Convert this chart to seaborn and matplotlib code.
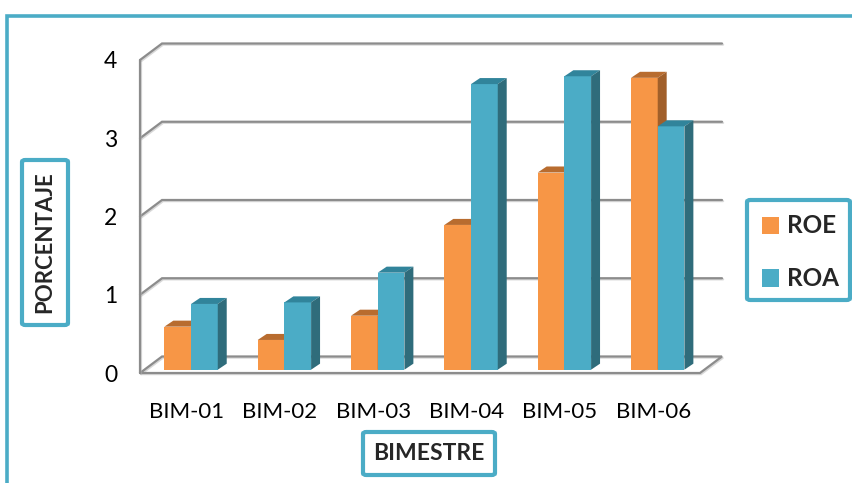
import matplotlib
matplotlib.use("Agg")
import matplotlib.pyplot as plt
import matplotlib.patheffects as pe
import pandas as pd
import seaborn as sns
from matplotlib.patches import Polygon, Rectangle, FancyBboxPatch
from matplotlib.lines import Line2D

# ---- data -------------------------------------------------------------
bimestres = ["BIM-01", "BIM-02", "BIM-03", "BIM-04", "BIM-05", "BIM-06"]
roe = [0.55, 0.38, 0.69, 1.85, 2.52, 3.73]
roa = [0.84, 0.86, 1.24, 3.65, 3.75, 3.11]
series = ["ROE", "ROA"]
y_ticks = [0, 1, 2, 3, 4]

df = pd.DataFrame({
    "Bimestre": bimestres * 2,
    "Indicador": ["ROE"] * len(roe) + ["ROA"] * len(roa),
    "Valor": roe + roa,
})

# ---- styling ----------------------------------------------------------
front_colors = {"ROE": "#F79646", "ROA": "#4BACC6"}
top_colors = {"ROE": "#B86C2F", "ROA": "#31849B"}
side_colors = {"ROE": "#A15F2A", "ROA": "#2F6C7B"}
frame_color = "#4BACC6"
grid_gray = "#8C8C8C"

sns.set_style("white")
plt.rcParams["font.family"] = ["Lato", "DejaVu Sans"]

W, H = 853, 483
fig = plt.figure(figsize=(W / 100, H / 100), dpi=100)


def fx(px):
    return px / W


def fy(py):
    return 1 - py / H


# pseudo-3D geometry (data units)
DX, DY = 0.236, 0.211          # depth of the floor / back wall
OX, OY = 0.2 * DX, 0.2 * DY    # front face of the bars sits slightly inside
BX, BY = 0.096, 0.077          # depth of each bar
XPX, YPX = 93.33, 78.25        # pixels per data unit

n = len(bimestres)
xmin, xmax = -0.5, n - 0.5 + DX
ymin, ymax = 0, max(y_ticks) + DY
left_px, bottom_px = 140, 373
ax = fig.add_axes([
    fx(left_px), fy(bottom_px),
    (xmax - xmin) * XPX / W, (ymax - ymin) * YPX / H,
])

sns.barplot(
    data=df, x="Bimestre", y="Valor", hue="Indicador",
    order=bimestres, hue_order=series, palette=front_colors,
    width=0.572, saturation=1, errorbar=None, legend=False,
    linewidth=0, ax=ax,
)

ax.set_xlim(xmin, xmax)
ax.set_ylim(ymin, ymax)
for s in ax.spines.values():
    s.set_visible(False)
ax.set_xlabel("")
ax.set_ylabel("")

# grid / walls
shadow = [pe.SimpleLineShadow(offset=(0.8, -0.8), shadow_color="0.7", alpha=0.5), pe.Normal()]
line_kw = dict(color=grid_gray, lw=1.6, clip_on=False, zorder=1,
               solid_joinstyle="miter", path_effects=shadow)
for v in y_ticks[1:]:
    ax.plot([xmin, xmin + DX, n - 0.5 + DX], [v, v + DY, v + DY], **line_kw)
ax.plot([xmin, n - 0.5, n - 0.5 + DX, xmin + DX, xmin],
        [0, 0, DY, DY, 0], **line_kw)
ax.plot([xmin, xmin], [0, max(y_ticks)], **line_kw)

# bars: shift front faces into depth, add top and side faces
for cont, name in zip(ax.containers, series):
    z = 3 if name == "ROE" else 4
    for bar in cont:
        x, w, h = bar.get_x(), bar.get_width(), bar.get_height()
        x += OX
        bar.set_x(x)
        bar.set_y(OY)
        bar.set_zorder(z)
        top = Polygon([(x, OY + h), (x + w, OY + h),
                       (x + w + BX, OY + h + BY), (x + BX, OY + h + BY)],
                      closed=True, facecolor=top_colors[name], lw=0, zorder=z)
        side = Polygon([(x + w, OY), (x + w + BX, OY + BY),
                        (x + w + BX, OY + h + BY), (x + w, OY + h)],
                       closed=True, facecolor=side_colors[name], lw=0, zorder=z)
        ax.add_patch(top)
        ax.add_patch(side)

# ticks
ax.set_yticks(y_ticks)
ax.set_yticklabels([str(v) for v in y_ticks])
ax.tick_params(axis="y", length=5.5, width=1.6, color=grid_gray,
               pad=11, labelsize=16.5, labelcolor="#000000")
ax.set_xticks(range(n))
ax.set_xticklabels(bimestres)
ax.tick_params(axis="x", length=0, pad=21, labelsize=16, labelcolor="#000000")


# ---- boxes and labels in figure pixels --------------------------------
def box(x0, y0, x1, y1, lw=3.0):
    p = FancyBboxPatch((fx(x0), fy(y1)), fx(x1) - fx(x0), fy(y0) - fy(y1),
                       boxstyle="round,pad=0,rounding_size=0.004",
                       transform=fig.transFigure, facecolor="white",
                       edgecolor=frame_color, lw=lw, zorder=5)
    fig.add_artist(p)


# outer frame
fig.add_artist(Line2D([fx(7.5), fx(7.5), fx(W + 5)], [fy(H + 5), fy(15.5), fy(15.5)],
                      transform=fig.transFigure, color=frame_color, lw=2.6,
                      solid_joinstyle="miter"))

# y axis title
box(22, 160, 68, 325)
fig.text(fx(45), fy(242.5), "PORCENTAJE", rotation=90, ha="center", va="center",
         fontsize=16, fontweight="bold", zorder=6)

# x axis title
box(363, 432, 495, 475)
fig.text(fx(429), fy(454), "BIMESTRE", ha="center", va="center",
         fontsize=16.5, fontweight="bold", zorder=6)

# legend
box(747, 200, 850, 300)
for name, yc in zip(series, [226, 278]):
    fig.add_artist(Rectangle((fx(762), fy(yc + 8.5)), fx(17.5), 17.5 / H,
                             transform=fig.transFigure,
                             facecolor=front_colors[name], lw=0, zorder=6))
    fig.text(fx(787), fy(yc), name, ha="left", va="center",
             fontsize=17.5, fontweight="bold", zorder=6)

fig.savefig("out.png", dpi=100)
